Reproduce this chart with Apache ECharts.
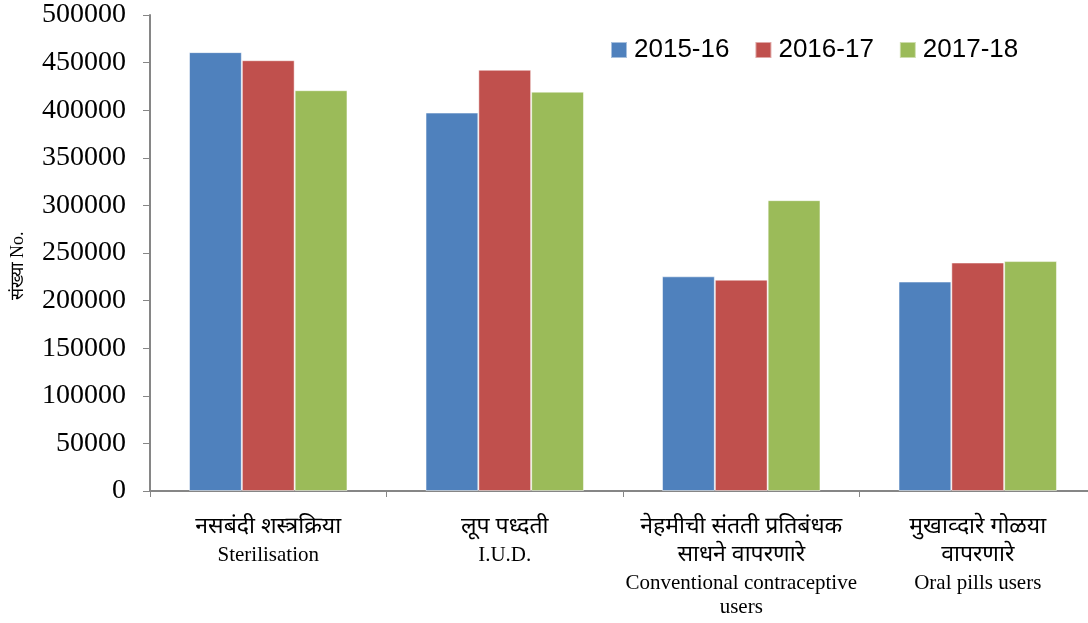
<!DOCTYPE html>
<html>
<head>
<meta charset="utf-8">
<script src="https://cdn.jsdelivr.net/npm/echarts@6/dist/echarts.min.js"></script>
<style>
  html,body{margin:0;padding:0;background:#fff;}
  #main{width:1088px;height:623px;}
</style>
</head>
<body>
<div id="main"></div>
<script>
// data
var categories = [
  "{d|नसबंदी शस्त्रक्रिया}\n{e|Sterilisation}",
  "{d|लूप पध्दती}\n{e|I.U.D.}",
  "{d|नेहमीची संतती प्रतिबंधक}\n{d|साधने वापरणारे}\n{e|Conventional contraceptive}\n{e|users}",
  "{d|मुखाव्दारे गोळया}\n{d|वापरणारे}\n{e|Oral pills users}"
];
var seriesNames = ["2015-16", "2016-17", "2017-18"];
var y2015 = [461000, 397500, 225500, 220000];
var y2016 = [452500, 442500, 222000, 240000];
var y2017 = [421000, 419500, 305500, 241500];
var colors = ["#4F81BD", "#C0504D", "#9BBB59"];

var myChart = echarts.init(document.getElementById("main"));
var allData = [y2015, y2016, y2017];

myChart.setOption({
  animation: false,
  legend: {
    data: seriesNames,
    top: 32,
    left: 605,
    itemWidth: 16,
    itemHeight: 16,
    itemGap: 25,
    icon: "rect",
    textStyle: {
      fontFamily: "Liberation Sans",
      fontSize: 26,
      color: "#000",
      padding: [0, 0, 0, 2]
    }
  },
  grid: {
    left: 150,
    right: -8,
    top: 15,
    bottom: 132,
    containLabel: false,
    outerBoundsMode: "none"
  },
  xAxis: {
    type: "category",
    data: categories,
    axisLine: { lineStyle: { color: "#868686", width: 2 } },
    axisTick: { show: true, length: 6, lineStyle: { color: "#868686" } },
    axisLabel: {
      interval: 0,
      margin: 24,
      rich: {
        d: { fontSize: 23, color: "#000", lineHeight: 28, fontFamily: "Noto Sans Devanagari, Noto Sans, sans-serif" },
        e: { fontSize: 21, color: "#000", lineHeight: 24, fontFamily: "Liberation Serif" }
      }
    }
  },
  yAxis: {
    type: "value",
    min: 0,
    max: 500000,
    interval: 50000,
    name: "संख्या No.",
    nameLocation: "middle",
    nameRotate: 90,
    nameGap: 123,
    nameTextStyle: { fontFamily: "Liberation Serif", fontSize: 18, color: "#000", padding: [0, 26, 0, 0] },
    axisLine: { show: true, lineStyle: { color: "#868686", width: 2 } },
    axisTick: { show: true, length: 7, lineStyle: { color: "#868686" } },
    splitLine: { show: false },
    axisLabel: {
      margin: 24,
      fontFamily: "Liberation Serif",
      fontSize: 28,
      color: "#000",
      formatter: function (v) { return String(v); }
    }
  },
  series: seriesNames.map(function (n, i) {
    return {
      name: n,
      type: "bar",
      data: allData[i],
      barGap: "0%",
      barCategoryGap: "33%",
      itemStyle: { color: colors[i], borderColor: "rgba(255,255,255,0.5)", borderWidth: 1 }
    };
  })
});
</script>
</body>
</html>
